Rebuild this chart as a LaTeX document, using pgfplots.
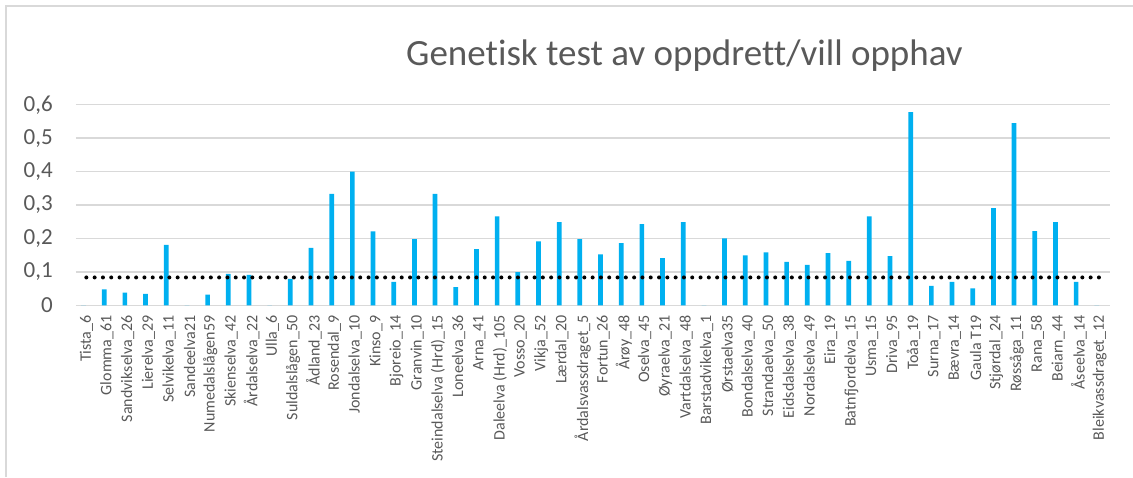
\documentclass[border=0pt]{standalone}
\usepackage{fontspec}
\setmainfont{Carlito}[Ligatures={NoCommon}]
\usepackage{pgfplots}
\pgfplotsset{compat=1.18}
\definecolor{barblue}{HTML}{00B0F0}
\definecolor{txtgray}{HTML}{595959}
\definecolor{gridgray}{HTML}{D9D9D9}
\begin{document}
\begin{tikzpicture}[x=1pt,y=1pt]
\path[use as bounding box] (0,0) rectangle (1133,477);
\fill[white] (0,0) rectangle (1133,477);
\draw[gridgray, line width=1.5pt] (6,0) -- (6,471) -- (1133,471);
\node[anchor=base west, inner sep=0pt, text=txtgray, font=\fontsize{37}{43}\selectfont] at (406,411) {Genetisk test av oppdrett/vill opphav};
\begin{axis}[
  at={(76pt,171.7pt)}, anchor=south west,
  width=1034pt, height=200.6pt, scale only axis,
  xmin=-0.5, xmax=49.5, ymin=0, ymax=0.6,
  ytick={0,0.1,0.2,0.3,0.4,0.5,0.6},
  yticklabels={0,{0,1},{0,2},{0,3},{0,4},{0,5},{0,6}},
  xtick={0,...,49},
  xticklabels={Tista\_6,Glomma\_61,Sandvikselva\_26,Lierelva\_29,Selvikelva\_11,Sandeelva21,Numedalslågen59,Skienselva\_42,Årdalselva\_22,Ulla\_6,Suldalslågen\_50,Ådland\_23,Rosendal\_9,Jondalselva\_10,Kinso\_9,Bjoreio\_14,Granvin\_10,Steindalselva (Hrd)\_15,Loneelva\_36,Arna\_41,Daleelva (Hrd)\_105,Vosso\_20,Vikja\_52,Lærdal\_20,Årdalsvassdraget\_5,Fortun\_26,Årøy\_48,Oselva\_45,Øyraelva\_21,Vartdalselva\_48,Barstadvikelva\_1,Ørstaelva35,Bondalselva\_40,Strandaelva\_50,Eidsdalselva\_38,Nordalselva\_49,Eira\_19,Batnfjordelva\_15,Usma\_15,Driva\_95,Toåa\_19,Surna\_17,Bævra\_14,Gaula T19,Stjørdal\_24,Røssåga\_11,Rana\_58,Beiarn\_44,Åseelva\_14,Bleikvassdraget\_12},
  axis line style={draw=none},
  major tick length=0pt,
  ymajorgrids, grid style={gridgray, line width=1.3pt},
  xticklabel style={rotate=90, anchor=east, inner sep=0pt, text=txtgray, font=\fontsize{16}{19}\selectfont},
  xticklabel shift=10pt,
  yticklabel style={anchor=east, inner sep=0pt, text=txtgray, font=\fontsize{23}{27}\selectfont},
  yticklabel shift=23pt,
  clip=false,
]
\addplot[ybar, bar width=4.7pt, bar shift=-2.8pt, fill=barblue, draw=none] coordinates {
(0,0) (1,0.048) (2,0.038) (3,0.034) (4,0.181) (5,0) (6,0.032) (7,0.094) (8,0.091) (9,0)
(10,0.079) (11,0.172) (12,0.333) (13,0.400) (14,0.221) (15,0.070) (16,0.198) (17,0.333) (18,0.054) (19,0.168)
(20,0.266) (21,0.099) (22,0.191) (23,0.249) (24,0.198) (25,0.152) (26,0.186) (27,0.243) (28,0.141) (29,0.249)
(30,0) (31,0.200) (32,0.149) (33,0.158) (34,0.130) (35,0.121) (36,0.156) (37,0.133) (38,0.266) (39,0.147)
(40,0.578) (41,0.058) (42,0.070) (43,0.051) (44,0.291) (45,0.545) (46,0.222) (47,0.249) (48,0.070) (49,0)
};
\addplot[black, line width=4pt, line cap=round, dash pattern=on 0pt off 8.3pt] coordinates {(0,0.0833) (49,0.0833)};
\end{axis}
\end{tikzpicture}
\end{document}
